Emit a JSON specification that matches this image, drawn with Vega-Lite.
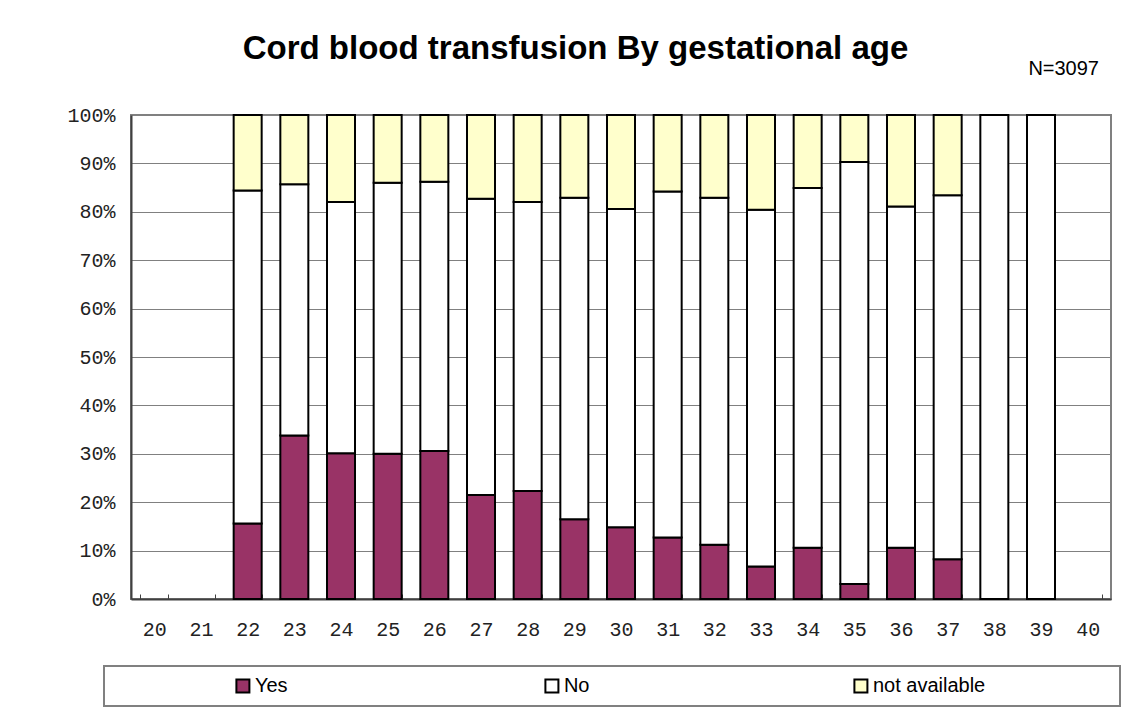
{
  "$schema": "https://vega.github.io/schema/vega-lite/v6.json",
  "background": "white",
  "padding": {"left": 65, "top": 33, "right": 0, "bottom": 5},
  "title": {
    "text": "Cord blood transfusion By gestational age",
    "font": "Liberation Sans",
    "fontSize": 33,
    "fontWeight": "bold",
    "color": "black",
    "anchor": "middle",
    "offset": -8,
    "dx": -27
  },
  "config": {
    "font": "Liberation Sans",
    "concat": {"spacing": 25}
  },
  "datasets": {
    "d": [
      {"age": 22, "answer": "Yes", "pct": 15.6, "k": 1},
      {"age": 22, "answer": "No", "pct": 68.8, "k": 2},
      {"age": 22, "answer": "not available", "pct": 15.6, "k": 3},
      {"age": 23, "answer": "Yes", "pct": 33.8, "k": 1},
      {"age": 23, "answer": "No", "pct": 51.9, "k": 2},
      {"age": 23, "answer": "not available", "pct": 14.3, "k": 3},
      {"age": 24, "answer": "Yes", "pct": 30.1, "k": 1},
      {"age": 24, "answer": "No", "pct": 51.9, "k": 2},
      {"age": 24, "answer": "not available", "pct": 18.0, "k": 3},
      {"age": 25, "answer": "Yes", "pct": 30.0, "k": 1},
      {"age": 25, "answer": "No", "pct": 56.0, "k": 2},
      {"age": 25, "answer": "not available", "pct": 14.0, "k": 3},
      {"age": 26, "answer": "Yes", "pct": 30.6, "k": 1},
      {"age": 26, "answer": "No", "pct": 55.6, "k": 2},
      {"age": 26, "answer": "not available", "pct": 13.8, "k": 3},
      {"age": 27, "answer": "Yes", "pct": 21.5, "k": 1},
      {"age": 27, "answer": "No", "pct": 61.2, "k": 2},
      {"age": 27, "answer": "not available", "pct": 17.3, "k": 3},
      {"age": 28, "answer": "Yes", "pct": 22.3, "k": 1},
      {"age": 28, "answer": "No", "pct": 59.7, "k": 2},
      {"age": 28, "answer": "not available", "pct": 18.0, "k": 3},
      {"age": 29, "answer": "Yes", "pct": 16.5, "k": 1},
      {"age": 29, "answer": "No", "pct": 66.4, "k": 2},
      {"age": 29, "answer": "not available", "pct": 17.1, "k": 3},
      {"age": 30, "answer": "Yes", "pct": 14.8, "k": 1},
      {"age": 30, "answer": "No", "pct": 65.8, "k": 2},
      {"age": 30, "answer": "not available", "pct": 19.4, "k": 3},
      {"age": 31, "answer": "Yes", "pct": 12.7, "k": 1},
      {"age": 31, "answer": "No", "pct": 71.5, "k": 2},
      {"age": 31, "answer": "not available", "pct": 15.8, "k": 3},
      {"age": 32, "answer": "Yes", "pct": 11.2, "k": 1},
      {"age": 32, "answer": "No", "pct": 71.7, "k": 2},
      {"age": 32, "answer": "not available", "pct": 17.1, "k": 3},
      {"age": 33, "answer": "Yes", "pct": 6.7, "k": 1},
      {"age": 33, "answer": "No", "pct": 73.7, "k": 2},
      {"age": 33, "answer": "not available", "pct": 19.6, "k": 3},
      {"age": 34, "answer": "Yes", "pct": 10.6, "k": 1},
      {"age": 34, "answer": "No", "pct": 74.3, "k": 2},
      {"age": 34, "answer": "not available", "pct": 15.1, "k": 3},
      {"age": 35, "answer": "Yes", "pct": 3.1, "k": 1},
      {"age": 35, "answer": "No", "pct": 87.2, "k": 2},
      {"age": 35, "answer": "not available", "pct": 9.7, "k": 3},
      {"age": 36, "answer": "Yes", "pct": 10.6, "k": 1},
      {"age": 36, "answer": "No", "pct": 70.5, "k": 2},
      {"age": 36, "answer": "not available", "pct": 18.9, "k": 3},
      {"age": 37, "answer": "Yes", "pct": 8.2, "k": 1},
      {"age": 37, "answer": "No", "pct": 75.2, "k": 2},
      {"age": 37, "answer": "not available", "pct": 16.6, "k": 3},
      {"age": 38, "answer": "No", "pct": 100, "k": 2},
      {"age": 39, "answer": "No", "pct": 100, "k": 2}
    ]
  },
  "data": {"name": "d"},
  "bounds": "full",
  "center": true,
  "vconcat": [
    {
      "title": {
        "text": "N=3097",
        "anchor": "end",
        "font": "Liberation Sans",
        "fontSize": 20,
        "fontWeight": "normal",
        "color": "black",
        "offset": 26,
        "dx": -12
      },
      "width": 980,
      "height": 484,
      "view": {"stroke": "#808080", "strokeWidth": 2},
      "mark": {"type": "bar", "stroke": "black", "strokeWidth": 2},
      "encoding": {
        "x": {
          "field": "age",
          "type": "ordinal",
          "scale": {
            "domain": [20, 21, 22, 23, 24, 25, 26, 27, 28, 29, 30, 31, 32, 33, 34, 35, 36, 37, 38, 39, 40],
            "paddingInner": 0.4,
            "paddingOuter": 0.2
          },
          "axis": {
            "title": null,
            "labelAngle": 0,
            "labelFont": "Liberation Mono",
            "labelFontSize": 20,
            "labelColor": "#222222",
            "labelPadding": 25,
            "tickBand": "extent",
            "tickSize": -5,
            "tickColor": "#404040",
            "tickWidth": 1,
            "domainColor": "#404040",
            "domainWidth": 2,
            "grid": false
          }
        },
        "y": {
          "field": "pct",
          "type": "quantitative",
          "stack": "zero",
          "scale": {"domain": [0, 100], "nice": false},
          "axis": {
            "title": null,
            "values": [0, 10, 20, 30, 40, 50, 60, 70, 80, 90, 100],
            "labelExpr": "datum.value + '%'",
            "labelFont": "Liberation Mono",
            "labelFontSize": 20,
            "labelColor": "#222222",
            "labelPadding": 16,
            "ticks": false,
            "grid": true,
            "gridColor": "#808080",
            "gridWidth": 1,
            "domainColor": "#404040",
            "domainWidth": 2
          }
        },
        "color": {
          "field": "answer",
          "type": "nominal",
          "scale": {
            "domain": ["Yes", "No", "not available"],
            "range": ["#993366", "#FFFFFF", "#FFFFCC"]
          },
          "legend": null
        },
        "order": {"field": "k", "type": "quantitative"}
      }
    },
    {
      "width": 1016,
      "height": 40,
      "view": {"stroke": "#808080", "strokeWidth": 2},
      "transform": [
        {"aggregate": [{"op": "count", "as": "n"}], "groupby": ["answer"]}
      ],
      "encoding": {
        "x": {
          "field": "answer",
          "type": "nominal",
          "sort": ["Yes", "No", "not available"],
          "scale": {"type": "point", "padding": 0.644, "align": 0.349},
          "axis": null
        },
        "y": {
          "datum": "legend",
          "type": "nominal",
          "axis": {
            "orient": "right",
            "title": null,
            "labels": false,
            "ticks": false,
            "domain": true,
            "domainOpacity": 0,
            "grid": false,
            "minExtent": 18,
            "maxExtent": 18,
            "titlePadding": 0
          }
        }
      },
      "layer": [
        {
          "mark": {"type": "point", "shape": "square", "filled": true, "size": 169, "stroke": "black", "strokeWidth": 2, "opacity": 1},
          "encoding": {
            "color": {"field": "answer", "type": "nominal", "legend": null}
          }
        },
        {
          "mark": {"type": "text", "align": "left", "baseline": "middle", "dx": 12, "fontSize": 20, "font": "Liberation Sans", "color": "black"},
          "encoding": {
            "text": {"field": "answer", "type": "nominal"}
          }
        }
      ]
    }
  ]
}
